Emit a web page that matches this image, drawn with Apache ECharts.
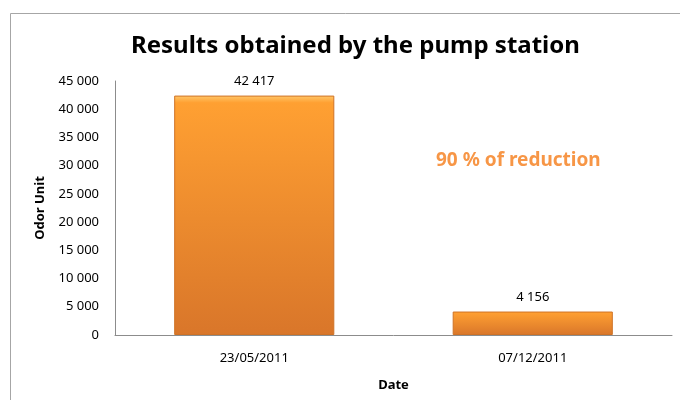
<!DOCTYPE html>
<html lang="en">
<head>
    <meta charset="UTF-8">
    <title>Results obtained by the pump station</title>
    <script src="https://cdn.jsdelivr.net/npm/echarts@6/dist/echarts.min.js"></script>
    <style>
        body { margin: 0; background: #fff; }
        #main { width: 680px; height: 400px; }
    </style>
</head>
<body>
<div id="main"></div>
<script>
    // data
    var dates = ['23/05/2011', '07/12/2011'];
    var odorUnits = [42417, 4156];
    var reductionText = '90 % of reduction';

    // 42417 -> "42 417"
    function spaced(v) {
        return String(v).replace(/\B(?=(\d{3})+(?!\d))/g, ' ');
    }

    var myChart = echarts.init(document.getElementById('main'));
    var font = 'Noto Sans';

    var option = {
        backgroundColor: '#fff',
        title: {
            text: 'Results obtained by the pump station',
            left: 126,
            top: 29,
            textStyle: { fontFamily: font, fontSize: 24, fontWeight: 'bold', color: '#000' }
        },
        graphic: [
            {
                // outer frame of the chart area
                type: 'rect',
                shape: { x: 10.5, y: 13.5, width: 700, height: 420 },
                style: { fill: 'none', stroke: '#a6a6a6', lineWidth: 1 },
                silent: true
            },
            {
                type: 'text',
                left: 436,
                top: 151,
                style: { text: reductionText, fill: '#f79646', font: 'bold 19px "Noto Sans"' }
            }
        ],
        grid: { left: 115, right: 8, top: 81, bottom: 65 },
        xAxis: {
            type: 'category',
            data: dates,
            name: 'Date',
            nameLocation: 'middle',
            nameGap: 44,
            nameTextStyle: { fontFamily: font, fontSize: 13, fontWeight: 'bold', color: '#000' },
            axisLine: { lineStyle: { color: '#8c8c8c' } },
            axisTick: { show: false },
            axisLabel: { fontFamily: font, fontSize: 13, color: '#000', margin: 17 }
        },
        yAxis: {
            type: 'value',
            min: 0,
            max: 45000,
            interval: 5000,
            name: 'Odor Unit',
            nameLocation: 'middle',
            nameGap: 68,
            nameTextStyle: { fontFamily: font, fontSize: 13, fontWeight: 'bold', color: '#000' },
            axisLine: { show: true, lineStyle: { color: '#8c8c8c' } },
            axisTick: { show: false },
            splitLine: { show: false },
            axisLabel: { fontFamily: font, fontSize: 13, color: '#000', margin: 16, formatter: spaced }
        },
        series: [
            {
                type: 'bar',
                data: odorUnits,
                barCategoryGap: '42.5%',
                itemStyle: {
                    borderColor: '#cf7226',
                    borderWidth: 1,
                    color: new echarts.graphic.LinearGradient(0, 0, 0, 1, [
                        { offset: 0, color: '#ffc86a' },
                        { offset: 0.03, color: '#ffa032' },
                        { offset: 1, color: '#d9762a' }
                    ])
                },
                label: {
                    show: true,
                    position: 'top',
                    distance: 8,
                    fontFamily: font,
                    fontSize: 13,
                    color: '#000',
                    formatter: function (p) { return spaced(p.value); }
                }
            }
        ]
    };

    myChart.setOption(option);
</script>
</body>
</html>
